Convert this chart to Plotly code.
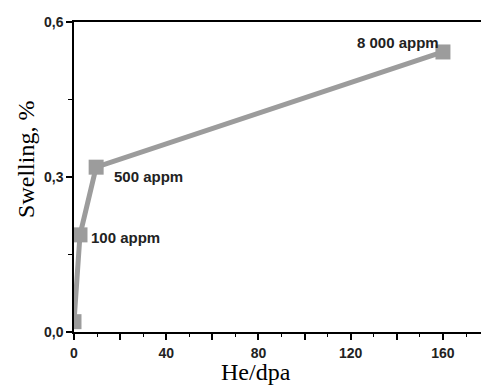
import plotly.graph_objects as go

he_dpa = [0, 2.6, 9.6, 160]
swelling = [0.02, 0.188, 0.319, 0.542]
labels = ["", "100 appm", "500 appm", "8 000 appm"]

x_tickvals = [0, 20, 40, 60, 80, 100, 120, 140, 160]
x_ticktext = ["0", "", "40", "", "80", "", "120", "", "160"]
y_tickvals = [0.0, 0.3, 0.6]
y_ticktext = ["0,0", "0,3", "0,6"]

GRAY = "#9c9c9c"

fig = go.Figure()
fig.add_trace(go.Scatter(
    x=he_dpa, y=swelling, mode="lines+markers",
    line=dict(color=GRAY, width=5),
    marker=dict(symbol="square", size=15, color=GRAY),
    showlegend=False,
))

tickfont = dict(family="Liberation Sans", size=14, color="#222", weight="bold")
ann_font = dict(family="Liberation Sans", size=15, color="#222", weight="bold")

fig.add_annotation(x=he_dpa[1], y=swelling[1], text=labels[1], showarrow=False,
                   xanchor="left", yanchor="middle", xshift=9, yshift=-3, font=ann_font)
fig.add_annotation(x=he_dpa[2], y=swelling[2], text=labels[2], showarrow=False,
                   xanchor="left", yanchor="middle", xshift=16, yshift=-9, font=ann_font)
fig.add_annotation(x=he_dpa[3], y=swelling[3], text=labels[3], showarrow=False,
                   xanchor="right", yanchor="middle", xshift=-2, yshift=9, font=ann_font)

fig.add_annotation(x=79, y=0, xref="x", yref="paper", text="He/dpa", showarrow=False,
                   yanchor="middle", yshift=-40,
                   font=dict(family="Liberation Serif", size=24, color="black"))
fig.add_annotation(x=0, y=0.555, xref="paper", yref="paper", text="Swelling, %", showarrow=False,
                   xanchor="center", yanchor="middle", xshift=-48, textangle=-90,
                   font=dict(family="Liberation Serif", size=24, color="black"))

fig.update_layout(
    width=481, height=385,
    margin=dict(l=74, r=0, t=22, b=53),
    paper_bgcolor="white", plot_bgcolor="white",
    xaxis=dict(range=[0, 176.5], tickvals=x_tickvals, ticktext=x_ticktext,
               ticks="outside", ticklen=6, tickwidth=1.5, tickcolor="black",
               showline=True, linecolor="black", linewidth=1.5, mirror=True,
               showgrid=False, zeroline=False, tickfont=tickfont, ticklabelstandoff=1,
               minor=dict(dtick=10, tick0=0, ticks="outside", ticklen=3, tickwidth=1, tickcolor="black")),
    yaxis=dict(range=[0, 0.6], tickvals=y_tickvals, ticktext=y_ticktext,
               ticks="outside", ticklen=6, tickwidth=1.5, tickcolor="black",
               showline=True, linecolor="black", linewidth=1.5,
               showgrid=False, zeroline=False, tickfont=tickfont,
               minor=dict(dtick=0.15, tick0=0, ticks="outside", ticklen=4, tickwidth=1, tickcolor="black")),
)

fig.write_html("out.html")
